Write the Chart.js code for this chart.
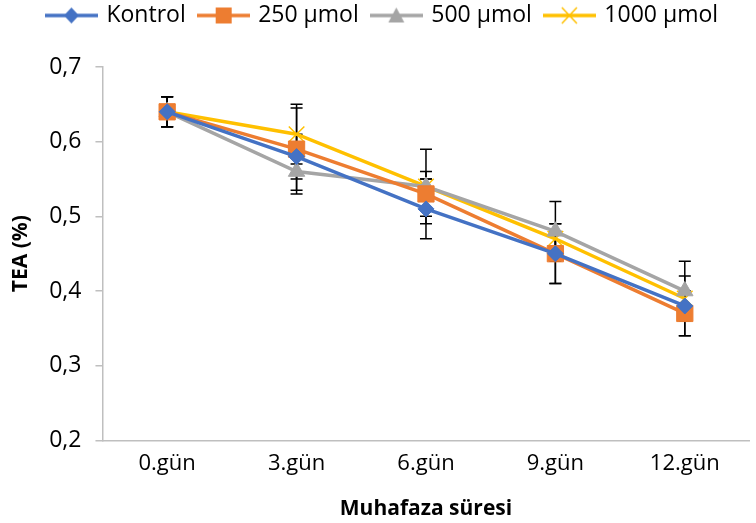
<!DOCTYPE html>
<html>
<head>
<meta charset="utf-8">
<script src="https://cdn.jsdelivr.net/npm/chart.js@4"></script>
<style>
  html, body { margin: 0; padding: 0; background: #fff; overflow: hidden; }
  #wrap { width: 762px; height: 523px; overflow: hidden; }
  #chart { margin-top: -10px; display: block; }
</style>
</head>
<body>
<div id="wrap"><canvas id="chart" width="762" height="533"></canvas></div>
<script>
const days = ['0.gün', '3.gün', '6.gün', '9.gün', '12.gün'];
const yTicks = [0.2, 0.3, 0.4, 0.5, 0.6, 0.7];

const kontrol = [0.64, 0.58, 0.51, 0.45, 0.38];
const umol250 = [0.64, 0.59, 0.53, 0.45, 0.37];
const umol500 = [0.64, 0.56, 0.54, 0.48, 0.40];
const umol1000 = [0.64, 0.61, 0.54, 0.47, 0.39];

// +/- error for each point
const errKontrol = [0.02, 0.03, 0.04, 0.04, 0.04];
const err250 = [0.02, 0.055, 0.03, 0.04, 0.03];
const err500 = [0.02, 0.03, 0.05, 0.04, 0.04];
const err1000 = [0.02, 0.04, 0.01, 0.01, 0.01];

const FONT = "'Open Sans', 'DejaVu Sans', sans-serif";

// legend icon: short line with the marker in the middle
function legendIcon(color, style) {
    const c = document.createElement('canvas');
    c.width = 53; c.height = 20;
    const g = c.getContext('2d');
    g.strokeStyle = color;
    g.lineWidth = 3.5;
    g.beginPath(); g.moveTo(0, 10); g.lineTo(53, 10); g.stroke();
    g.fillStyle = color;
    g.beginPath();
    if (style === 'diamond') {
        g.moveTo(26.5, 2); g.lineTo(34, 10); g.lineTo(26.5, 18); g.lineTo(19, 10); g.closePath(); g.fill();
    } else if (style === 'square') {
        g.fillRect(19, 2, 16, 16);
    } else if (style === 'triangle') {
        g.moveTo(26.5, 2); g.lineTo(34.5, 17); g.lineTo(18.5, 17); g.closePath(); g.fill();
    } else {
        g.lineWidth = 1.5;
        g.moveTo(19, 2); g.lineTo(34, 18); g.moveTo(34, 2); g.lineTo(19, 18); g.stroke();
    }
    return c;
}

const series = [
    { label: 'Kontrol', data: kontrol, err: errKontrol, color: '#4472C4', point: 'rectRot', radius: 8, icon: 'diamond' },
    { label: '250 µmol', data: umol250, err: err250, color: '#ED7D31', point: 'rect', radius: 11.5, icon: 'square' },
    { label: '500 µmol', data: umol500, err: err500, color: '#A5A5A5', point: 'triangle', radius: 9.5, icon: 'triangle' },
    { label: '1000 µmol', data: umol1000, err: err1000, color: '#FFC000', point: 'crossRot', radius: 11, icon: 'cross' }
];

const errorBars = {
    id: 'errorBars',
    beforeDatasetsDraw(chart) {
        const ctx = chart.ctx;
        const y = chart.scales.y;
        ctx.save();
        ctx.strokeStyle = '#000';
        ctx.lineWidth = 1.5;
        chart.data.datasets.forEach((ds, i) => {
            const meta = chart.getDatasetMeta(i);
            meta.data.forEach((pt, j) => {
                const e = ds.err[j];
                const top = y.getPixelForValue(ds.data[j] + e);
                const bot = y.getPixelForValue(ds.data[j] - e);
                const x = pt.x;
                ctx.beginPath();
                ctx.moveTo(x, top); ctx.lineTo(x, bot);
                ctx.moveTo(x - 6, top); ctx.lineTo(x + 6, top);
                ctx.moveTo(x - 6, bot); ctx.lineTo(x + 6, bot);
                ctx.stroke();
            });
        });
        ctx.restore();
    }
};

// extra room under the legend
const legendGap = {
    id: 'legendGap',
    beforeInit(chart) {
        const fit = chart.legend.fit;
        chart.legend.fit = function() {
            fit.bind(chart.legend)();
            this.height += 30;
        };
    }
};

new Chart(document.getElementById('chart'), {
    type: 'line',
    data: {
        labels: days,
        datasets: series.map(s => ({
            label: s.label,
            data: s.data,
            err: s.err,
            borderColor: s.color,
            backgroundColor: s.color,
            borderWidth: 3.5,
            pointStyle: s.point,
            pointRadius: s.radius,
            pointHoverRadius: s.radius,
            pointBorderWidth: s.point === 'crossRot' ? 1.5 : 1,
            pointBorderColor: s.color,
            pointBackgroundColor: s.color,
            tension: 0,
            icon: legendIcon(s.color, s.icon)
        }))
    },
    options: {
        responsive: false,
        animation: false,
        layout: { padding: { top: 0, left: 4, right: 0, bottom: 1 } },
        plugins: {
            tooltip: { enabled: false },
            legend: {
                position: 'top',
                labels: {
                    usePointStyle: true,
                    pointStyleWidth: 47,
                    padding: 14,
                    color: '#000',
                    font: { family: FONT, size: 23 },
                    generateLabels(chart) {
                        return chart.data.datasets.map((ds, i) => ({
                            text: ds.label,
                            pointStyle: ds.icon,
                            fillStyle: ds.borderColor,
                            strokeStyle: ds.borderColor,
                            lineWidth: 0,
                            fontColor: '#000',
                            hidden: false,
                            datasetIndex: i
                        }));
                    }
                }
            }
        },
        scales: {
            x: {
                offset: true,
                grid: { display: false },
                border: { color: '#BFBFBF', width: 1.5 },
                ticks: { color: '#000', font: { family: FONT, size: 22 }, padding: 2 },
                title: { display: true, text: 'Muhafaza süresi', color: '#000', font: { family: FONT, size: 21, weight: 'bold' }, padding: { top: 18, bottom: 0 } }
            },
            y: {
                min: 0.2,
                max: 0.7,
                afterBuildTicks(axis) { axis.ticks = yTicks.map(v => ({ value: v })); },
                grid: { drawOnChartArea: false, drawTicks: true, tickLength: 7, color: '#BFBFBF', lineWidth: 1.5 },
                border: { color: '#BFBFBF', width: 1.5 },
                ticks: {
                    color: '#000',
                    font: { family: FONT, size: 23 },
                    padding: 14,
                    callback: v => v.toFixed(1).replace('.', ',')
                },
                title: { display: true, text: 'TEA (%)', color: '#000', font: { family: FONT, size: 21, weight: 'bold' }, padding: { bottom: 2 } }
            }
        }
    },
    plugins: [errorBars, legendGap]
});
</script>
</body>
</html>
